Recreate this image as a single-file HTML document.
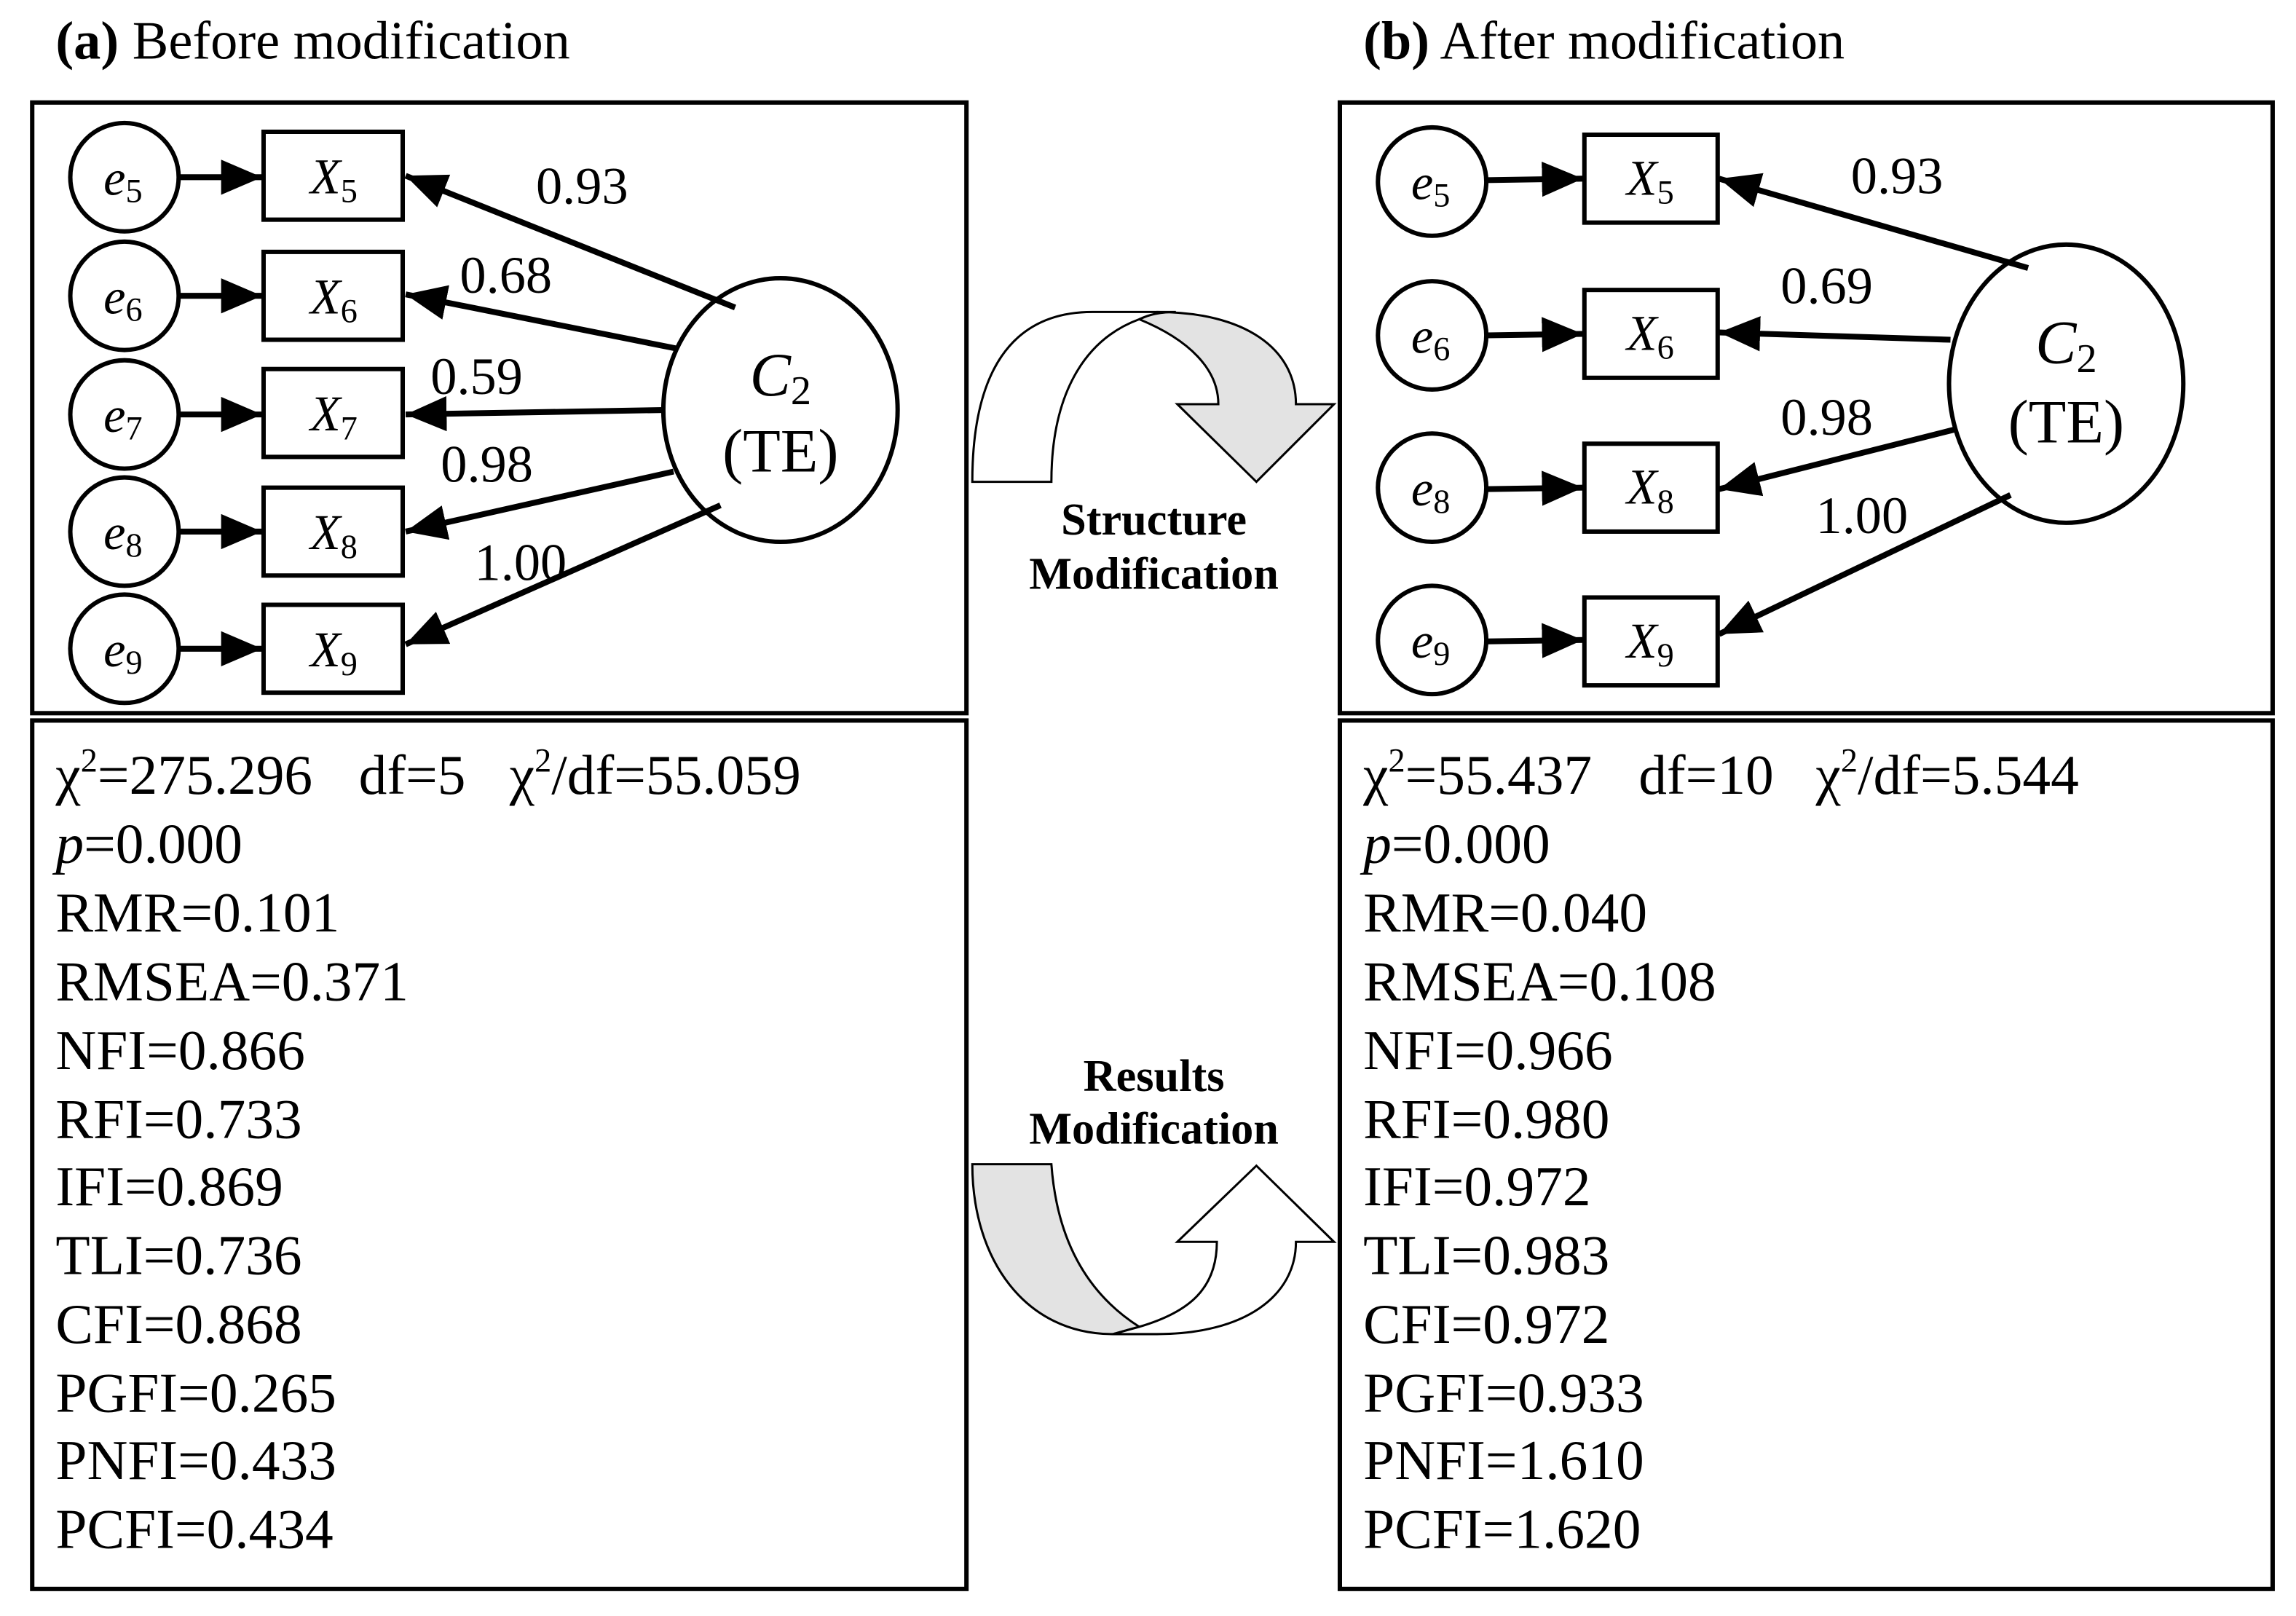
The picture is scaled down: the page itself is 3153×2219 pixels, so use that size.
<!DOCTYPE html>
<html><head><meta charset="utf-8"><style>
html,body{margin:0;padding:0;background:#fff;}
svg{display:block;}
text{font-family:"Liberation Serif",serif;fill:#000;}
</style></head><body>
<svg width="3153" height="2219" viewBox="0 0 3153 2219" xmlns="http://www.w3.org/2000/svg">
<defs>
<marker id="ah" markerUnits="userSpaceOnUse" markerWidth="30" markerHeight="26" refX="28" refY="12" orient="auto">
<path d="M0,0 L28,12 L0,24 Z" fill="#000"/>
</marker>
</defs>
<rect width="3153" height="2219" fill="#fff"/>
<g transform="scale(2.0109)">
<text x="38" y="40" font-size="37"><tspan font-weight="bold">(a)</tspan> Before modification</text>
<text x="931" y="40" font-size="37"><tspan font-weight="bold">(b)</tspan> After modification</text>

<g fill="none" stroke="#000" stroke-width="3">
<rect x="22" y="70" width="638" height="417"/>
<rect x="22" y="492" width="638" height="593"/>
<rect x="915" y="70" width="637" height="417"/>
<rect x="915" y="492" width="637" height="593"/>
</g>

<!-- LEFT DIAGRAM -->
<g stroke="#000" stroke-width="3" fill="#fff">
<ellipse cx="85" cy="121" rx="37" ry="37"/>
<ellipse cx="85" cy="202" rx="37" ry="37"/>
<ellipse cx="85" cy="283" rx="37" ry="37"/>
<ellipse cx="85" cy="363" rx="37" ry="37"/>
<ellipse cx="85" cy="443" rx="37" ry="37"/>
<rect x="180" y="90" width="95" height="60"/>
<rect x="180" y="172" width="95" height="60"/>
<rect x="180" y="252" width="95" height="60"/>
<rect x="180" y="333" width="95" height="60"/>
<rect x="180" y="413" width="95" height="60"/>
<ellipse cx="533" cy="280" rx="80" ry="90"/>
</g>
<g stroke="#000" stroke-width="4" marker-end="url(#ah)">
<line x1="122" y1="121" x2="179" y2="121"/>
<line x1="122" y1="202" x2="179" y2="202"/>
<line x1="122" y1="283" x2="179" y2="283"/>
<line x1="122" y1="363" x2="179" y2="363"/>
<line x1="122" y1="443" x2="179" y2="443"/>
<line x1="502" y1="210" x2="277" y2="120"/>
<line x1="462" y1="238" x2="277" y2="201"/>
<line x1="453" y1="280" x2="277" y2="283"/>
<line x1="460" y1="322" x2="277" y2="363"/>
<line x1="492" y1="345" x2="277" y2="440"/>
</g>
<g font-size="34" font-style="italic" text-anchor="middle">
<text x="84" y="133">e<tspan font-size="23" font-style="normal" dy="5">5</tspan></text>
<text x="84" y="214">e<tspan font-size="23" font-style="normal" dy="5">6</tspan></text>
<text x="84" y="295">e<tspan font-size="23" font-style="normal" dy="5">7</tspan></text>
<text x="84" y="375">e<tspan font-size="23" font-style="normal" dy="5">8</tspan></text>
<text x="84" y="455">e<tspan font-size="23" font-style="normal" dy="5">9</tspan></text>
<text x="228" y="132">X<tspan font-size="23" font-style="normal" dy="6">5</tspan></text>
<text x="228" y="214">X<tspan font-size="23" font-style="normal" dy="6">6</tspan></text>
<text x="228" y="294">X<tspan font-size="23" font-style="normal" dy="6">7</tspan></text>
<text x="228" y="375">X<tspan font-size="23" font-style="normal" dy="6">8</tspan></text>
<text x="228" y="455">X<tspan font-size="23" font-style="normal" dy="6">9</tspan></text>
</g>
<text x="533" y="270" font-size="42" font-style="italic" text-anchor="middle">C<tspan font-size="28" font-style="normal" dy="6">2</tspan></text>
<text x="533" y="322" font-size="42" text-anchor="middle">(TE)</text>
<g font-size="36">
<text x="366" y="139">0.93</text>
<text x="314" y="200">0.68</text>
<text x="294" y="269">0.59</text>
<text x="301" y="329">0.98</text>
<text x="324" y="396">1.00</text>
</g>

<!-- RIGHT DIAGRAM -->
<g stroke="#000" stroke-width="3" fill="#fff">
<ellipse cx="978" cy="124" rx="37" ry="37"/>
<ellipse cx="978" cy="229" rx="37" ry="37"/>
<ellipse cx="978" cy="333" rx="37" ry="37"/>
<ellipse cx="978" cy="437" rx="37" ry="37"/>
<rect x="1082" y="92" width="91" height="60"/>
<rect x="1082" y="198" width="91" height="60"/>
<rect x="1082" y="303" width="91" height="60"/>
<rect x="1082" y="408" width="91" height="60"/>
<ellipse cx="1411" cy="262" rx="80" ry="95"/>
</g>
<g stroke="#000" stroke-width="4" marker-end="url(#ah)">
<line x1="1015" y1="123" x2="1081" y2="122"/>
<line x1="1015" y1="229" x2="1081" y2="228"/>
<line x1="1015" y1="334" x2="1081" y2="333"/>
<line x1="1015" y1="438" x2="1081" y2="437"/>
<line x1="1385" y1="183" x2="1174" y2="122"/>
<line x1="1332" y1="232" x2="1174" y2="227"/>
<line x1="1336" y1="293" x2="1174" y2="334"/>
<line x1="1373" y1="338" x2="1174" y2="433"/>
</g>
<g font-size="34" font-style="italic" text-anchor="middle">
<text x="977" y="136">e<tspan font-size="23" font-style="normal" dy="5">5</tspan></text>
<text x="977" y="241">e<tspan font-size="23" font-style="normal" dy="5">6</tspan></text>
<text x="977" y="345">e<tspan font-size="23" font-style="normal" dy="5">8</tspan></text>
<text x="977" y="449">e<tspan font-size="23" font-style="normal" dy="5">9</tspan></text>
<text x="1127" y="133">X<tspan font-size="23" font-style="normal" dy="6">5</tspan></text>
<text x="1127" y="239">X<tspan font-size="23" font-style="normal" dy="6">6</tspan></text>
<text x="1127" y="344">X<tspan font-size="23" font-style="normal" dy="6">8</tspan></text>
<text x="1127" y="449">X<tspan font-size="23" font-style="normal" dy="6">9</tspan></text>
</g>
<text x="1411" y="248" font-size="42" font-style="italic" text-anchor="middle">C<tspan font-size="28" font-style="normal" dy="6">2</tspan></text>
<text x="1411" y="302" font-size="42" text-anchor="middle">(TE)</text>
<g font-size="36">
<text x="1264" y="132">0.93</text>
<text x="1216" y="207">0.69</text>
<text x="1216" y="297">0.98</text>
<text x="1240" y="364">1.00</text>
</g>

<!-- curved arrows -->
<g stroke="#000" stroke-width="1.5">
<path d="M778,218 C812,232 832,252 832,276 L804,276 L858,329 L911,276 L885,276 C885,238 850,213 790,213 Z" fill="#e3e3e3"/>
<path d="M664,329 C664,255 690,213 746,213 L803,213 C792,213 784,215 778,218 C740,232 718,270 718,329 Z" fill="#fff"/>
<path d="M664,795 L718,795 C722,850 745,885 778,906 L760,911 C700,911 664,860 664,795 Z" fill="#e3e3e3"/>
<path d="M778,906 C812,896 831,880 831,848 L804,848 L858,796 L911,848 L885,848 C885,885 850,911 790,911 L760,911 Z" fill="#fff"/>
</g>
<g font-size="31" font-weight="bold" text-anchor="middle">
<text x="788" y="365">Structure</text>
<text x="788" y="402">Modification</text>
<text x="788" y="745">Results</text>
<text x="788" y="781">Modification</text>
</g>

<!-- stats left -->
<g font-size="38.5">
<text x="38" y="542">χ<tspan font-size="23" dy="-15">2</tspan><tspan dy="15">=275.296</tspan></text>
<text x="245" y="542">df=5</text>
<text x="348" y="542">χ<tspan font-size="23" dy="-15">2</tspan><tspan dy="15">/df=55.059</tspan></text>
<text x="38" y="589"><tspan font-style="italic">p</tspan>=0.000</text>
<text x="38" y="636">RMR=0.101</text>
<text x="38" y="683">RMSEA=0.371</text>
<text x="38" y="730">NFI=0.866</text>
<text x="38" y="777">RFI=0.733</text>
<text x="38" y="823">IFI=0.869</text>
<text x="38" y="870">TLI=0.736</text>
<text x="38" y="917">CFI=0.868</text>
<text x="38" y="964">PGFI=0.265</text>
<text x="38" y="1010">PNFI=0.433</text>
<text x="38" y="1057">PCFI=0.434</text>
</g>
<g font-size="38.5">
<text x="931" y="542">χ<tspan font-size="23" dy="-15">2</tspan><tspan dy="15">=55.437</tspan></text>
<text x="1119" y="542">df=10</text>
<text x="1240" y="542">χ<tspan font-size="23" dy="-15">2</tspan><tspan dy="15">/df=5.544</tspan></text>
<text x="931" y="589"><tspan font-style="italic">p</tspan>=0.000</text>
<text x="931" y="636">RMR=0.040</text>
<text x="931" y="683">RMSEA=0.108</text>
<text x="931" y="730">NFI=0.966</text>
<text x="931" y="777">RFI=0.980</text>
<text x="931" y="823">IFI=0.972</text>
<text x="931" y="870">TLI=0.983</text>
<text x="931" y="917">CFI=0.972</text>
<text x="931" y="964">PGFI=0.933</text>
<text x="931" y="1010">PNFI=1.610</text>
<text x="931" y="1057">PCFI=1.620</text>
</g>
</g>
</svg>
</body></html>
